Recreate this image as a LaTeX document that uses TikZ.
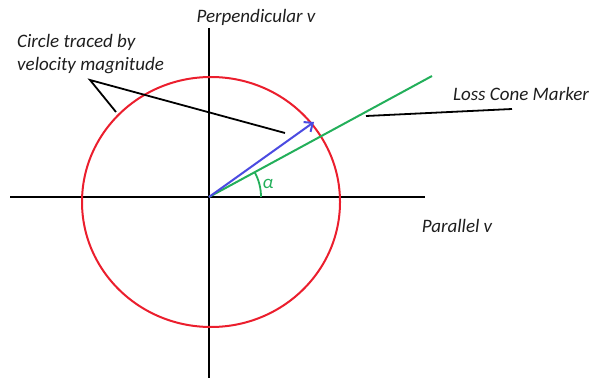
\documentclass[tikz,border=0pt]{standalone}
\usepackage{fontspec}
\setmainfont{Carlito}
\usetikzlibrary{arrows.meta,calc}
\definecolor{cred}{RGB}{235,30,45}
\definecolor{cgreen}{RGB}{35,175,90}
\definecolor{cblue}{RGB}{75,75,225}
\definecolor{ctext}{RGB}{30,30,30}
\begin{document}
\begin{tikzpicture}[x=1pt,y=-1pt,
  axis/.style={line width=1.8pt,black},
  lbl/.style={font=\fontsize{19}{23}\selectfont\itshape,text=ctext,inner sep=0pt},
  pointer/.style={line width=1.8pt,black}]
\useasboundingbox (0,0) rectangle (593,379);
\coordinate (O) at (209,197);
\coordinate (ytop) at (209,28);
\coordinate (ybot) at (209,378);
\coordinate (xl) at (10,197);
\coordinate (xr) at (425,197);
\draw[axis] (ytop) -- (ybot);
\draw[axis] (xl) -- (xr);
\draw[cred,line width=2pt] (211,202) ellipse [x radius=129, y radius=125];
\coordinate (G) at (432,76);
\draw[cgreen,line width=2pt] (O) -- (G);
\coordinate (B) at (314,122);
\draw[cblue,line width=2pt,-{Straight Barb[length=7pt,width=12pt]}] (O) -- (B);
\draw[cgreen,line width=1.8pt] ($(O)+(52,0)$) arc[start angle=0,end angle=-28.5,radius=52];
\node[lbl,text=cgreen] (alpha) at (268,184) {α};
\node[lbl,anchor=west] (circ) at (17,54) {\begin{tabular}{@{}l@{}}Circle traced by\\ velocity magnitude\end{tabular}};
\node[lbl] (perp) at (256,17) {Perpendicular v};
\node[lbl] (loss) at (521,94) {Loss Cone Marker};
\node[lbl] (par) at (457,226) {Parallel v};
\coordinate (P0) at (90,80);
\coordinate (P1) at (116,112);
\coordinate (P2) at (285,133);
\draw[pointer] (P1) -- (P0) -- (P2);
\coordinate (L0) at (366,116);
\coordinate (L1) at (512,109);
\draw[pointer] (L0) -- (L1);
\end{tikzpicture}
\end{document}
